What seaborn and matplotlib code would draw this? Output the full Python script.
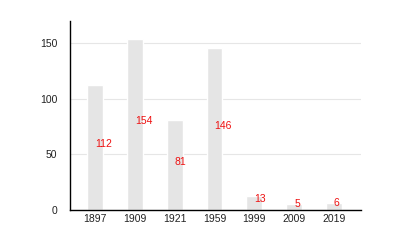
import matplotlib
matplotlib.use("Agg")
import matplotlib.pyplot as plt
import seaborn as sns
import pandas as pd

years = ["1897", "1909", "1921", "1959", "1999", "2009", "2019"]
values = [112, 154, 81, 146, 13, 5, 6]

sns.set_style("white")
plt.rcParams['font.family'] = ['Liberation Sans', 'DejaVu Sans']

df = pd.DataFrame({"year": years, "value": values})

fig = plt.figure(figsize=(4, 2.5), dpi=100)
ax = fig.add_axes([0.175, 0.16, 0.7275, 0.756])
sns.barplot(data=df, x="year", y="value", color="#e5e5e5", saturation=1,
            width=0.4, ax=ax, zorder=2)
ax.set_xlim(-0.63, 6.68)
ax.set_ylim(0, 170)
ax.set_yticks([0, 50, 100, 150])
ax.yaxis.grid(True, color="#e6e6e6", linewidth=0.8, zorder=0)
ax.set_axisbelow(True)
for s in ["top", "right"]:
    ax.spines[s].set_visible(False)
for s in ["left", "bottom"]:
    ax.spines[s].set_color("black")
    ax.spines[s].set_linewidth(1.0)
ax.tick_params(axis="both", length=0, labelsize=7.5, colors="#222222")
ax.tick_params(axis="y", pad=9)
ax.tick_params(axis="x", pad=3)
ax.set_xlabel("")
ax.set_ylabel("")
for i, v in enumerate(values):
    ax.text(i, v / 2 + 3, str(v), color="#ee1111", fontsize=7.5,
            ha="left", va="center", zorder=3)

fig.savefig("out.png", dpi=100)
